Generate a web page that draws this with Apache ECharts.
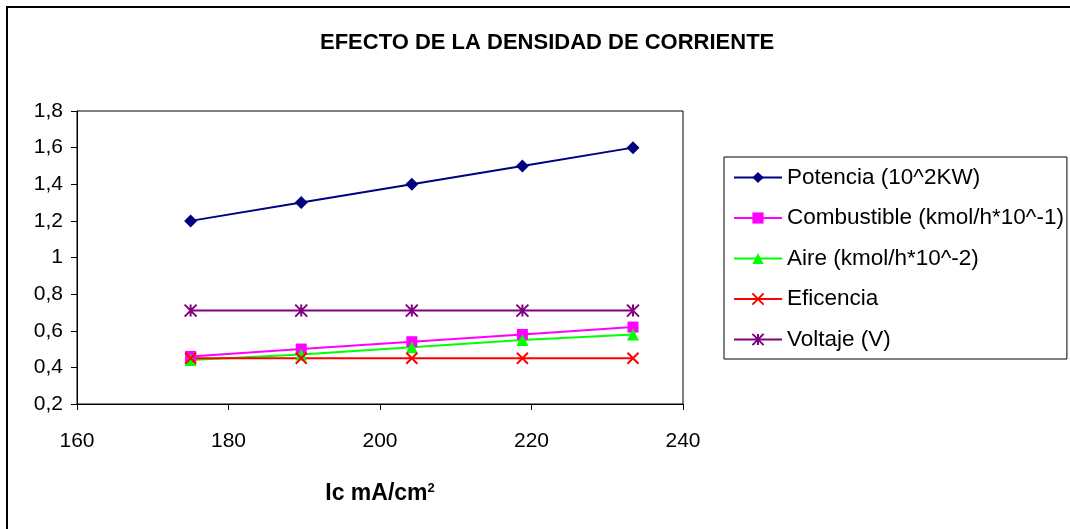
<!DOCTYPE html>
<html>
<head>
<meta charset="utf-8">
<style>
  html, body { margin: 0; padding: 0; background: #fff; }
  #chart { width: 1070px; height: 529px; }
</style>
<script src="https://cdn.jsdelivr.net/npm/echarts@6/dist/echarts.min.js"></script>
</head>
<body>
<div id="chart"></div>
<script>
// Current density (mA/cm2) for each operating point
const currentDensity = [175, 189.6, 204.2, 218.8, 233.4];

// Measured quantities at each current density
const potencia    = [1.2, 1.3, 1.4, 1.5, 1.6];
const combustible = [0.46, 0.50, 0.54, 0.58, 0.62];
const aire        = [0.44, 0.47, 0.51, 0.55, 0.58];
const eficencia   = [0.45, 0.45, 0.45, 0.45, 0.45];
const voltaje     = [0.71, 0.71, 0.71, 0.71, 0.71];

const seriesNames = [
  'Potencia (10^2KW)',
  'Combustible (kmol/h*10^-1)',
  'Aire (kmol/h*10^-2)',
  'Eficencia',
  'Voltaje (V)'
];

const FONT = '"Liberation Sans", Arial, sans-serif';

const crossPath = 'path://M0,0L10,10M10,0L0,10';
const starPath  = 'path://M5,0L5,10M0,0L10,10M10,0L0,10';

function pairs(ys) {
  return currentDensity.map((x, i) => [x, ys[i]]);
}

function lineSeries(name, ys, color, symbol, size, stroked) {
  return {
    name: name,
    type: 'line',
    data: pairs(ys),
    symbol: symbol,
    symbolSize: size,
    showSymbol: true,
    lineStyle: { color: color, width: 2 },
    itemStyle: stroked
      ? { color: color, borderColor: color, borderWidth: 2 }
      : { color: color, borderWidth: 0 },
    emphasis: { disabled: true },
    z: 3
  };
}

const chart = echarts.init(document.getElementById('chart'), null, { renderer: 'canvas' });

chart.setOption({
  animation: false,
  backgroundColor: '#fff',
  title: {
    text: 'EFECTO DE LA DENSIDAD DE CORRIENTE',
    left: 315,
    top: 27,
    textStyle: { fontFamily: FONT, fontWeight: 'bold', fontSize: 22, color: '#000' }
  },
  grid: {
    left: 77, top: 111, width: 606, height: 293,
    show: true, borderColor: '#000', borderWidth: 1, backgroundColor: '#fff'
  },
  legend: {
    orient: 'vertical',
    left: 724,
    top: 157,
    padding: [9, 3, 8, 9],
    itemGap: 17.5,
    itemWidth: 48,
    itemHeight: 14,
    borderColor: '#000',
    borderWidth: 1,
    backgroundColor: '#fff',
    data: seriesNames,
    textStyle: { fontFamily: FONT, fontSize: 22.5, color: '#000', lineHeight: 22 }
  },
  xAxis: {
    type: 'value',
    min: 160, max: 240, interval: 20,
    splitLine: { show: false },
    axisLine: { show: true, lineStyle: { color: '#000', width: 1 } },
    axisTick: { show: true, length: 6, lineStyle: { color: '#000' } },
    axisLabel: { fontFamily: FONT, fontSize: 21, color: '#000', margin: 27 },
    name: '{a|Ic mA/cm}{s|2}',
    nameLocation: 'middle',
    nameGap: 78,
    nameTextStyle: {
      rich: {
        a: { fontFamily: FONT, fontWeight: 'bold', fontSize: 23, color: '#000' },
        s: { fontFamily: FONT, fontWeight: 'bold', fontSize: 13, color: '#000', verticalAlign: 'top', padding: [0, 0, 4, 0] }
      }
    }
  },
  yAxis: {
    type: 'value',
    min: 0.2, max: 1.8, interval: 0.2,
    splitLine: { show: false },
    axisLine: { show: true, lineStyle: { color: '#000', width: 1 } },
    axisTick: { show: true, length: 6, lineStyle: { color: '#000' } },
    axisLabel: {
      fontFamily: FONT, fontSize: 21, color: '#000', margin: 14,
      formatter: v => String(Math.round(v * 10) / 10).replace('.', ',')
    }
  },
  graphic: [
    // outer chart frame (left and top edges)
    { type: 'line', shape: { x1: 7, y1: 7, x2: 7, y2: 529 }, style: { stroke: '#000', lineWidth: 2 } },
    { type: 'line', shape: { x1: 6, y1: 7, x2: 1070, y2: 7 }, style: { stroke: '#000', lineWidth: 2 } }
  ],
  series: [
    lineSeries(seriesNames[0], potencia,    '#000080', 'diamond', 13, false),
    lineSeries(seriesNames[1], combustible, '#FF00FF', 'rect',    11, false),
    lineSeries(seriesNames[2], aire,        '#00FF00', 'triangle',12, false),
    lineSeries(seriesNames[3], eficencia,   '#FF0000', crossPath, 11, true),
    lineSeries(seriesNames[4], voltaje,     '#800080', starPath,  12, true)
  ]
});
</script>
</body>
</html>
